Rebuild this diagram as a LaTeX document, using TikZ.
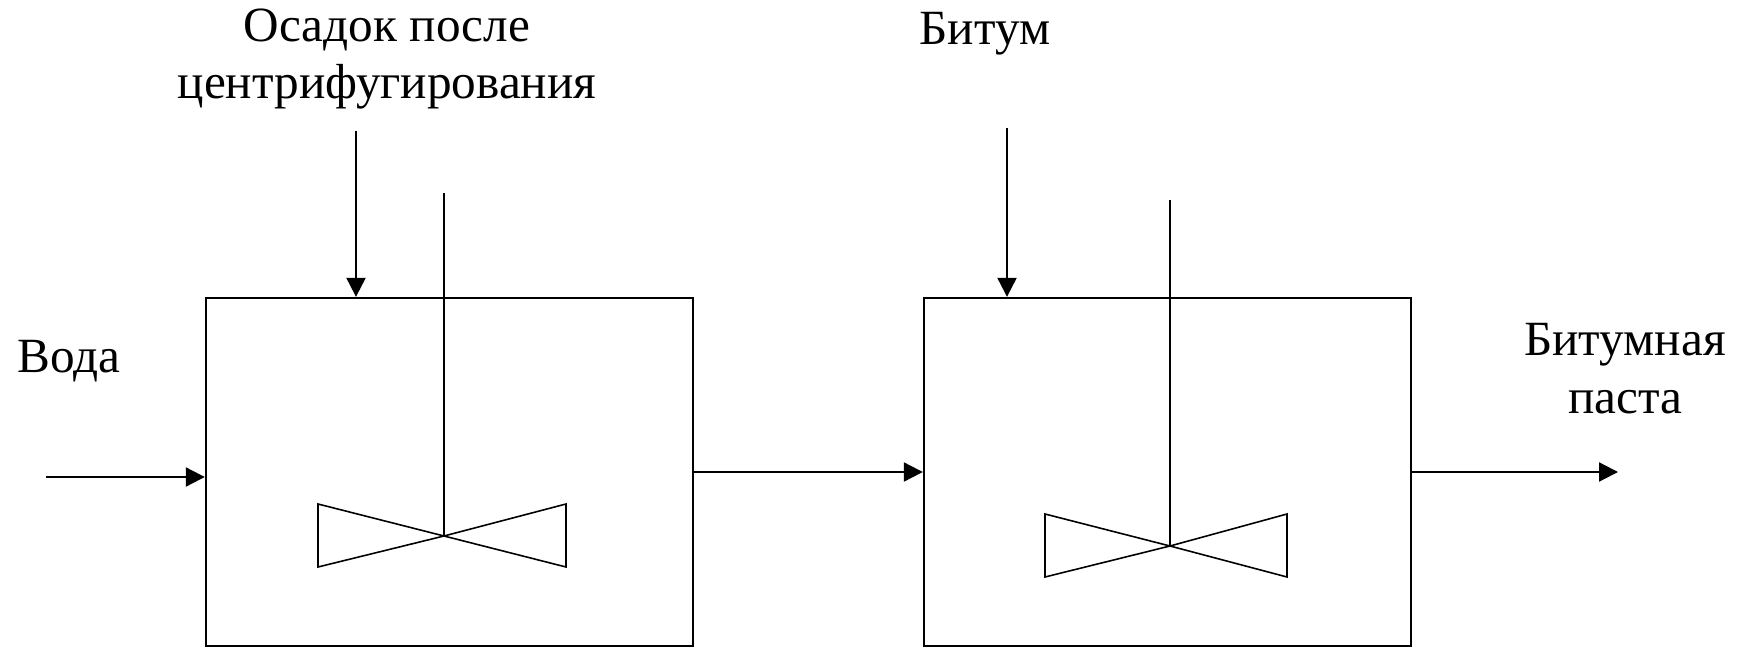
\documentclass[tikz,border=0pt]{standalone}
\usepackage{fontspec}
\setmainfont{Liberation Serif}
\usetikzlibrary{arrows.meta}
\tikzstyle{vessel}=[shape=rectangle,draw,line width=0.6pt,minimum width=4.87cm,minimum height=3.48cm,inner sep=0pt]
\tikzstyle{feed}=[-{Triangle[length=0.19cm,width=0.19cm]},line width=0.6pt]
\tikzstyle{shaft}=[line width=0.45pt]
\tikzstyle{lbl}=[align=center,inner sep=0pt,font=\rmfamily\fontsize{14}{16.4}\selectfont]
\begin{document}
\begin{tikzpicture}[x=0.01cm,y=-0.01cm]
            \useasboundingbox (0,0) rectangle (1749,649);
            % mixers
            \node[vessel] (M1) at (449.5,472) {}
            ;
            \node[vessel] (M2) at (1167.5,472) {}
            ;
            % labels (base = last line)
            \node[lbl,anchor=base] (sed) at (387,99) {Осадок после\\центрифугирования}
            ;
            \node[lbl,anchor=base] (bit) at (985,45) {Битум}
            ;
            \node[lbl,anchor=base] (water) at (69,373) {Вода}
            ;
            \node[lbl,anchor=base] (paste) at (1625,413) {Битумная\\паста}
            ;
            % flows
            \coordinate (W) at (46,477);
            \coordinate (S) at (356,131);
            \coordinate (B) at (1007,128);
            \coordinate (P) at (1618,472);
            \draw[feed] (W) -- (W -| M1.west);
            \draw[feed] (S) -- (S |- M1.north);
            \draw[feed] (B) -- (B |- M2.north);
            \draw[feed] (M1.east) -- (M2.west);
            \draw[feed] (M2.east) -- (P);
            % stirrers
            \coordinate (H1) at (444,536);
            \coordinate (H2) at (1170,546);
            \draw[shaft] (H1) -- ++(0,-343);
            \draw[shaft] (H1) -- ++(-126,-32) -- ++(0,63) -- cycle;
            \draw[shaft] (H1) -- ++(122,-32) -- ++(0,63) -- cycle;
            \draw[shaft] (H2) -- ++(0,-346);
            \draw[shaft] (H2) -- ++(-125,-32) -- ++(0,63) -- cycle;
            \draw[shaft] (H2) -- ++(117,-32) -- ++(0,63) -- cycle;
        \end{tikzpicture}
\end{document}
